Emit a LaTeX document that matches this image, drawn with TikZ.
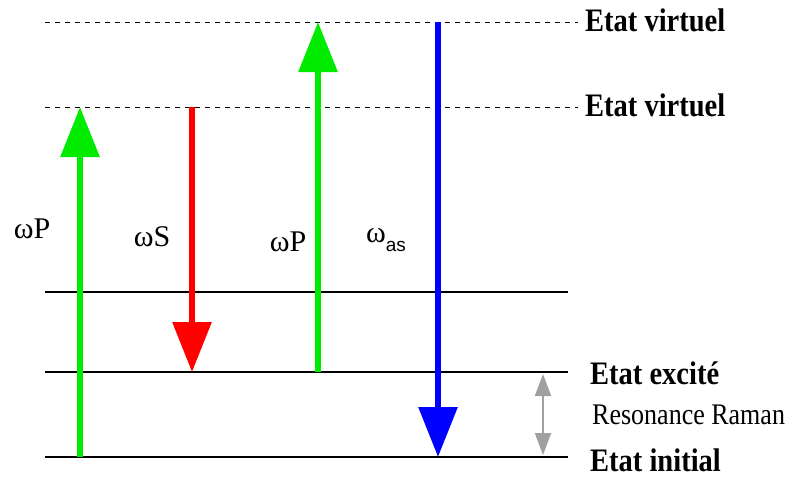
\documentclass[tikz,border=0pt]{standalone}
\usepackage{fontspec}
\setmainfont{Liberation Serif}
\setsansfont{Liberation Sans}
\usetikzlibrary{arrows.meta}

\definecolor{vert}{RGB}{0,235,0}
\definecolor{rouge}{RGB}{255,0,0}
\definecolor{bleu}{RGB}{0,0,255}
\definecolor{gris}{RGB}{160,160,160}

\begin{document}
\begin{tikzpicture}[x=1pt,y=-1pt,
  level/.style={line width=1.2pt},
  virt/.style={line width=1pt,dash pattern=on 5pt off 5pt},
  photon/.style={line width=6pt,-{Triangle[width=38pt,length=50pt]}},
  etat/.style={right,inner sep=0pt,yscale=1.15,font=\rmfamily\bfseries\fontsize{28.5}{28.5}\selectfont},
  freq/.style={inner sep=0pt,font=\rmfamily\fontsize{30}{30}\selectfont}]
  \useasboundingbox (0,0) rectangle (797,479);
  % niveaux
  \coordinate (v2a) at (45,22);  \coordinate (v2b) at (578,22);
  \coordinate (v1a) at (45,107); \coordinate (v1b) at (578,107);
  \coordinate (nia) at (45,292); \coordinate (nib) at (568,292);
  \coordinate (exa) at (45,372); \coordinate (exb) at (568,372);
  \coordinate (ina) at (45,457); \coordinate (inb) at (568,457);
  \draw[virt] (v2a) -- (v2b);
  \draw[virt] (v1a) -- (v1b);
  \draw[level] (nia) -- (nib);
  \draw[level] (exa) -- (exb);
  \draw[level] (ina) -- (inb);
  % transitions
  \coordinate (p1s) at (80,457);  \coordinate (p1e) at (80,107);
  \coordinate (ss)  at (192,107); \coordinate (se)  at (192,372);
  \coordinate (p2s) at (318,372); \coordinate (p2e) at (318,22);
  \coordinate (as)  at (438,22);  \coordinate (ae)  at (438,457);
  \draw[photon,vert] (p1s) -- (p1e);
  \draw[photon,rouge] (ss) -- (se);
  \draw[photon,vert] (p2s) -- (p2e);
  \draw[photon,bleu] (as) -- (ae);
  \coordinate (rh) at (543,374); \coordinate (rb) at (543,455);
  \draw[gris,line width=2pt,{Triangle[width=16pt,length=22pt]}-{Triangle[width=16pt,length=22pt]}] (rh) -- (rb);
  % textes
  \node[freq] (wp1) at (32,229) {ωP};
  \node[freq] (ws) at (152,237) {ωS};
  \node[freq] (wp2) at (288,242) {ωP};
  \node[freq] (was) at (386,240) {ω\raisebox{-9pt}{\fontsize{19}{19}\sffamily as}};
  \node[etat] (ev2) at (585,20) {Etat virtuel};
  \node[etat] (ev1) at (585,105) {Etat virtuel};
  \node[etat] (eex) at (590,373) {Etat excité};
  \node[etat,font=\rmfamily\fontsize{26}{26}\selectfont] (res) at (592,415) {Resonance Raman};
  \node[etat] (ein) at (590,460) {Etat initial};
\end{tikzpicture}
\end{document}
